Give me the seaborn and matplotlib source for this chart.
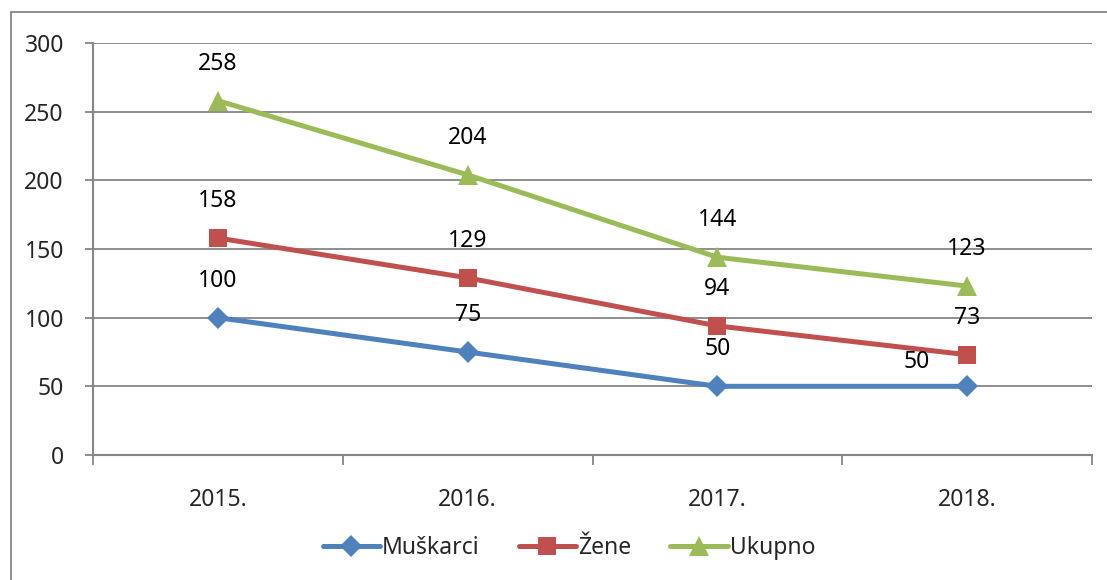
import pandas as pd
import matplotlib.pyplot as plt
import seaborn as sns
from matplotlib.lines import Line2D

# Podaci
godine = ['2015.', '2016.', '2017.', '2018.']
muskarci = [100, 75, 50, 50]
zene = [158, 129, 94, 73]
ukupno = [258, 204, 144, 123]

serije = ['Muškarci', 'Žene', 'Ukupno']
boje = {'Muškarci': '#4F81BD', 'Žene': '#C0504D', 'Ukupno': '#9BBB59'}
markeri = {'Muškarci': 'D', 'Žene': 's', 'Ukupno': '^'}
velicine = {'Muškarci': 11, 'Žene': 13, 'Ukupno': 14}

df = pd.DataFrame({
    'poz': list(range(len(godine))) * 3,
    'Broj': muskarci + zene + ukupno,
    'Spol': [s for s in serije for _ in godine],
})

sns.set_theme(style='white')
plt.rcParams['font.family'] = ['Noto Sans', 'DejaVu Sans']
siva = '#868686'
fs = 16.5

fig = plt.figure(figsize=(11.07, 5.8), dpi=100)
ax = fig.add_axes([93 / 1107, 1 - 455 / 580, (1092 - 93) / 1107, (455 - 43) / 580])

for s in serije:
    d = df[df['Spol'] == s]
    sns.lineplot(data=d, x='poz', y='Broj', ax=ax, color=boje[s], linewidth=3.6,
                 marker=markeri[s], markersize=velicine[s], markeredgewidth=0,
                 label=s, legend=False)
    for x, y in zip(d['poz'], d['Broj']):
        dx, dy = 0, 37
        if s == 'Muškarci' and x == 3:
            dx, dy = -50, 24
        ax.annotate(str(y), (x, y), xytext=(dx, dy), textcoords='offset pixels',
                    ha='center', va='center', fontsize=fs, color='black')

ax.set_xlim(-0.5, 3.5)
ax.set_ylim(0, 300)
ax.set_yticks(range(0, 301, 50))
ax.set_xticks(range(len(godine)))
ax.set_xticklabels(godine)
ax.set_xticks([-0.5, 0.5, 1.5, 2.5, 3.5], minor=True)
ax.set_xlabel('')
ax.set_ylabel('')

ax.grid(axis='y', color=siva, linewidth=1.3)
ax.grid(axis='x', visible=False)
ax.set_axisbelow(True)
for sp in ['top', 'right']:
    ax.spines[sp].set_visible(False)
for sp in ['left', 'bottom']:
    ax.spines[sp].set_color(siva)
    ax.spines[sp].set_linewidth(1.5)

ax.tick_params(axis='y', which='major', length=6, width=1.3, color=siva, pad=15,
               labelsize=fs, left=True)
ax.tick_params(axis='x', which='major', length=0, pad=24, labelsize=fs)
ax.tick_params(axis='x', which='minor', length=7, width=1.3, color=siva, bottom=True)

# Legenda
ruke = [Line2D([0], [0], color=boje[s], linewidth=3.6, marker=markeri[s],
               markersize=velicine[s], markeredgewidth=0) for s in serije]
fig.legend(ruke, serije, loc='center', bbox_to_anchor=(0.514, 1 - 548 / 580), ncol=3,
           frameon=False, fontsize=fs, handlelength=2.5, handletextpad=0.1,
           columnspacing=1.7)

# Okvir grafikona
fig.add_artist(Line2D([11 / 1107, 11 / 1107], [0, 1 - 12 / 580], color=siva,
                      linewidth=1.3, transform=fig.transFigure))
fig.add_artist(Line2D([11 / 1107, 1], [1 - 12 / 580, 1 - 12 / 580], color=siva,
                      linewidth=1.3, transform=fig.transFigure))

fig.savefig('out.png', dpi=100)
